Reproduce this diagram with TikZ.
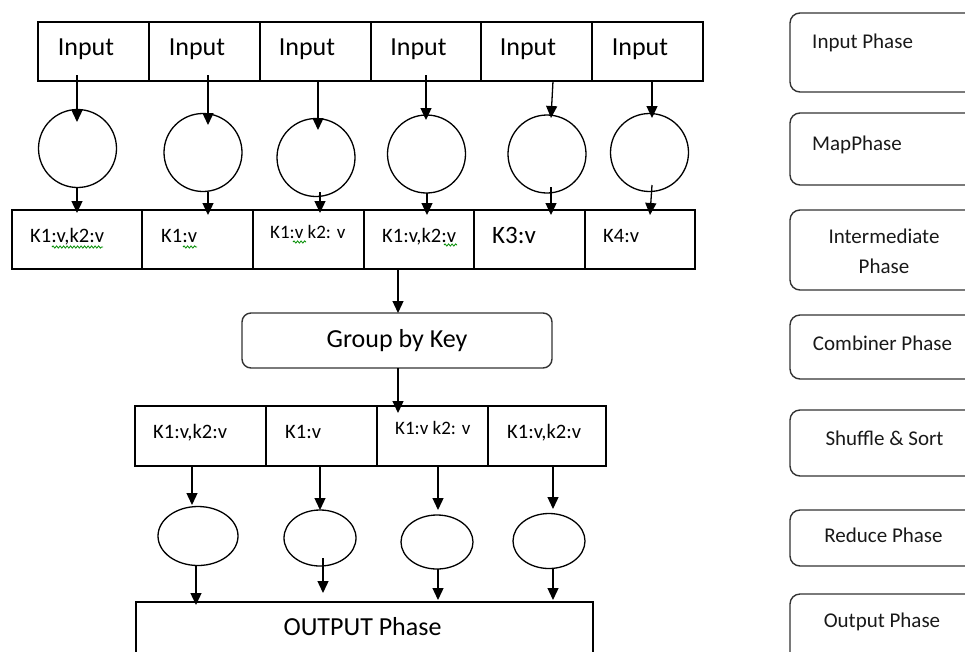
\documentclass[tikz,border=0pt]{standalone}
\usepackage{fontspec}
\setmainfont{Carlito}
\usetikzlibrary{arrows.meta,calc,shapes.geometric,decorations.pathmorphing}
\begin{document}
\begin{tikzpicture}[x=1pt,y=-1pt,
  cell/.style={draw, line width=1.3pt, rectangle, anchor=north west, inner sep=0, outer sep=0, minimum height=59pt},
  mapc/.style={circle, draw, line width=1.3pt, minimum size=78pt, inner sep=0, outer sep=0},
  redc/.style={ellipse, draw, line width=1.3pt, inner sep=0, outer sep=0},
  rbox/.style={draw=black!80, line width=1.4pt, rounded corners=10pt, rectangle, anchor=north west, inner sep=0, outer sep=0, minimum width=188pt},
  big/.style={inner sep=0, font=\fontsize{26}{30}\selectfont},
  kv/.style={anchor=base west, inner sep=0, font=\fontsize{20.5}{24}\selectfont},
  side/.style={anchor=base, inner sep=0, text=black!90, font=\fontsize{21}{30}\selectfont},
  arr/.style={-{Triangle[width=11pt,length=12pt]}, line width=1.3pt},
  spell/.style={draw=green!55!black, line width=0.8pt, decorate, decoration={snake, amplitude=1.1pt, segment length=3.5pt}},
  divider/.style={line width=2.4pt}]
\useasboundingbox (0,0) rectangle (965,651);
\clip (0,0) rectangle (965,651);

% ---- input splits ----
\node[cell, minimum width=111pt] (in1) at (38,22) {};
\node[cell, minimum width=111pt] (in2) at (149,22) {};
\node[cell, minimum width=111pt] (in3) at (260,22) {};
\node[cell, minimum width=110pt] (in4) at (371,22) {};
\node[cell, minimum width=111pt] (in5) at (481,22) {};
\node[cell, minimum width=111pt] (in6) at (592,22) {};
\draw[divider] (in1.north east) -- (in1.south east);
\draw[divider] (in3.north east) -- (in3.south east);
\draw[divider] (in5.north east) -- (in5.south east);
\node[big, anchor=base] (in1t) at (86,55) {Input};
\node[big, anchor=base] (in2t) at (197,55) {Input};
\node[big, anchor=base] (in3t) at (307,55) {Input};
\node[big, anchor=base] (in4t) at (418.5,55) {Input};
\node[big, anchor=base] (in5t) at (528,55) {Input};
\node[big, anchor=base] (in6t) at (640,55) {Input};

% ---- mappers ----
\node[mapc] (m1) at (77.5,148.5) {};
\node[mapc] (m2) at (203,152.5) {};
\node[mapc] (m3) at (316,157.5) {};
\node[mapc] (m4) at (426.5,154) {};
\node[mapc] (m5) at (547,154) {};
\node[mapc] (m6) at (649.5,152.5) {};

% ---- intermediate key/value pairs ----
\node[cell, minimum width=130pt] (k1) at (12,210) {};
\node[cell, minimum width=111pt] (k2) at (142,210) {};
\node[cell, minimum width=111pt] (k3) at (253,210) {};
\node[cell, minimum width=110pt] (k4) at (364,210) {};
\node[cell, minimum width=111pt] (k5) at (474,210) {};
\node[cell, minimum width=110pt] (k6) at (585,210) {};
\draw[divider] (k1.north east) -- (k1.south east);
\node[kv] (k1t) at (30,242) {K1:v,k2:v};
\node[kv] (k2t) at (161,242) {K1:v};
\node[kv, font=\fontsize{19}{22}\selectfont] (k3t) at (270,238) {K1:v k2: v};
\node[kv] (k4t) at (382,242) {K1:v,k2:v};
\node[kv, font=\fontsize{25}{28}\selectfont] (k5t) at (492,243) {K3:v};
\node[kv] (k6t) at (603,242) {K4:v};
\draw[spell] (52,247) -- (103,247);
\draw[spell] (183,247) -- (197,247);
\draw[spell] (293,242) -- (306,242);
\draw[spell] (444,245) -- (457,245);

% ---- grouping ----
\node[draw=black!80, line width=1.4pt, rounded corners=9pt, inner sep=0, outer sep=0,
      minimum width=310pt, minimum height=55pt, big] (grp) at (397,340.5) {Group by Key};

% ---- grouped key/value pairs ----
\node[cell, minimum width=131pt, minimum height=60pt] (lk1) at (135,406) {};
\node[cell, minimum width=111pt, minimum height=60pt] (lk2) at (266,406) {};
\node[cell, minimum width=111pt, minimum height=60pt] (lk3) at (377,406) {};
\node[cell, minimum width=118pt, minimum height=60pt] (lk4) at (488,406) {};
\draw[divider] (lk1.north east) -- (lk1.south east);
\node[kv] (lk1t) at (153,438) {K1:v,k2:v};
\node[kv] (lk2t) at (285,438) {K1:v};
\node[kv, font=\fontsize{19}{22}\selectfont] (lk3t) at (395,434) {K1:v k2: v};
\node[kv] (lk4t) at (507,438) {K1:v,k2:v};

% ---- reducers ----
\node[redc, minimum width=80pt, minimum height=59pt] (e1) at (198,536) {};
\node[redc, minimum width=72pt, minimum height=56pt] (e2) at (320,538) {};
\node[redc, minimum width=72pt, minimum height=54pt] (e3) at (437,542) {};
\node[redc, minimum width=72pt, minimum height=55pt] (e4) at (549,541) {};

% ---- output ----
\node[cell, minimum width=457pt, minimum height=90pt] (out) at (136,602) {};
\node[big, anchor=base] (outt) at (362.5,635) {OUTPUT Phase};

% ---- connectors ----
\draw[arr] ($(in1.south)+(-16.5,-6)$) -- ($(m1.north)+(-0.5,12.5)$);
\draw[arr] ($(in2.south)+(3.5,-6)$) -- ($(m2.north)+(5,11.5)$);
\draw[arr] ($(in3.south)+(2.5,0)$) -- ($(m3.north)+(2,11.5)$);
\draw[arr] ($(in4.south)+(0,-6)$) -- ($(m4.north)+(-0.5,5)$);
\draw[arr] ($(in5.south)+(16.5,0)$) -- ($(m5.north)+(4,3)$);
\draw[arr] ($(in6.south)+(4.5,0)$) -- ($(m6.north)+(2.5,4.5)$);

\draw[arr] ($(m1.south)+(-0.5,0)$) -- ($(k1.north)+(0,3)$);
\draw[arr] ($(m2.south)+(5,0.5)$) -- ($(k2.north)+(10.5,5)$);
\draw[arr] ($(m3.south)+(4,-4.5)$) -- ($(k3.north)+(11.5,3)$);
\draw[arr] ($(m4.south)+(0.5,0)$) -- ($(k4.north)+(8,5)$);
\draw[arr] ($(m5.south)+(4,-6)$) -- ($(k5.north)+(21.5,5)$);
\draw[arr] ($(m6.south)+(2.5,-6.5)$) -- ($(k6.north)+(10,5)$);

\draw[arr] ($(k4.south)+(-21,0)$) -- ($(grp.north)+(1,0)$);
\draw[arr] ($(grp.south)+(1,0)$) -- ($(lk3.north)+(-34.5,7)$);

\draw[arr] ($(lk1.south)+(-8.5,0)$) -- ($(e1.north)+(-6,-1.5)$);
\draw[arr] ($(lk2.south)+(-1.5,0)$) -- (e2.north);
\draw[arr] ($(lk3.south)+(5.5,0)$) -- ($(e3.north)+(1,-5)$);
\draw[arr] ($(lk4.south)+(6,0)$) -- ($(e4.north)+(4,-4.5)$);

\draw[arr] ($(e1.south)+(-2,0.5)$) -- ($(out.north)+(-168.5,3)$);
\draw[arr] ($(e2.south)+(3,-8)$) -- ($(out.north)+(-41.5,-9)$);
\draw[arr] ($(e3.south)+(1,0)$) -- ($(out.north)+(73.5,-2)$);
\draw[arr] ($(e4.south)+(4,-0.5)$) -- ($(out.north)+(188.5,-2)$);

% ---- phase legend ----
\node[rbox, minimum height=79pt] (r1) at (790,13) {};
\node[rbox, minimum height=72pt] (r2) at (790,113) {};
\node[rbox, minimum height=80pt] (r3) at (790,210) {};
\node[rbox, minimum height=64pt] (r4) at (790,315) {};
\node[rbox, minimum height=66pt] (r5) at (790,410) {};
\node[rbox, minimum height=56pt] (r6) at (790,510) {};
\node[rbox, minimum height=90pt] (r7) at (790,594) {};
\node[side, anchor=base west] (r1t) at (812,48) {Input Phase};
\node[side, anchor=base west] (r2t) at (812,150) {MapPhase};
\node[side] (r3t) at (884,243) {Intermediate};
\node[side] (r3u) at (884,273) {Phase};
\node[side] (r4t) at (882.5,350) {Combiner Phase};
\node[side] (r5t) at (884.5,445) {Shuffle \& Sort};
\node[side] (r6t) at (883.5,542) {Reduce Phase};
\node[side] (r7t) at (882,627) {Output Phase};
\end{tikzpicture}
\end{document}
